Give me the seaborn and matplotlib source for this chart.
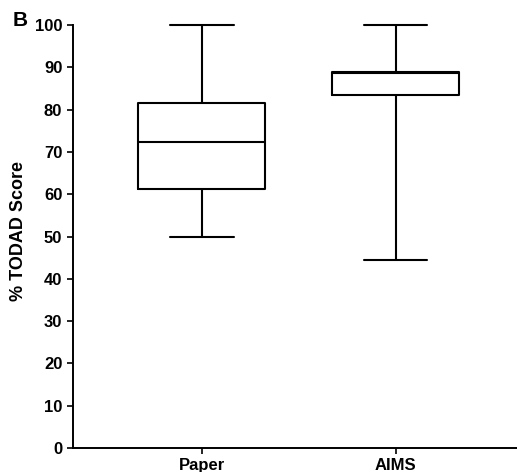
import matplotlib
matplotlib.use("Agg")
import matplotlib.pyplot as plt
import seaborn as sns
import pandas as pd

# five-number summaries (min, Q1, median, Q3, max)
grupos = ["Paper", "AIMS"]
paper = [50.0, 61.3, 72.3, 81.6, 100.0]
aims = [44.4, 83.4, 88.6, 88.8, 100.0]
yticks = [0, 10, 20, 30, 40, 50, 60, 70, 80, 90, 100]

df = pd.DataFrame({
    "grupo": ["Paper"] * len(paper) + ["AIMS"] * len(aims),
    "score": paper + aims,
})

sns.set_style("ticks")
plt.rcParams["font.family"] = ["Liberation Sans", "DejaVu Sans"]
plt.rcParams["font.weight"] = "bold"
plt.rcParams["text.color"] = "black"
plt.rcParams["axes.labelcolor"] = "black"

fig = plt.figure(figsize=(5.17, 4.72), dpi=100)
ax = fig.add_axes([0.1406, 0.0508, 0.8594, 0.8962])

linha = dict(color="black", linewidth=1.5)
sns.boxplot(data=df, x="grupo", y="score", order=grupos, whis=(0, 100),
            width=0.656, fill=False, color="black", linewidth=1.5,
            boxprops=linha, medianprops=linha, whiskerprops=linha,
            capprops=linha, showfliers=False, ax=ax)

for art in ax.lines + ax.patches:
    art.set_clip_on(False)

ax.set_ylim(0, 100)
ax.set_xlim(-0.667, 1.626)
ax.set_yticks(yticks)
ax.set_xlabel("")
ax.set_ylabel("% TODAD Score", fontsize=13, fontweight="bold", color="black")
ax.yaxis.set_label_coords(-0.103, 0.513)
ax.tick_params(axis="both", labelsize=12, length=4, width=1.2, pad=3.5,
               colors="black")
ax.tick_params(axis="x", pad=3)
for lab in ax.get_xticklabels() + ax.get_yticklabels():
    lab.set_fontweight("bold")
for s in ["left", "bottom"]:
    ax.spines[s].set_linewidth(1.4)
    ax.spines[s].set_color("black")
sns.despine(ax=ax)

fig.text(0.0246, 0.956, "B", fontsize=15, fontweight="bold", va="center",
         color="black")

fig.savefig("out.png", dpi=100)
plt.close()
